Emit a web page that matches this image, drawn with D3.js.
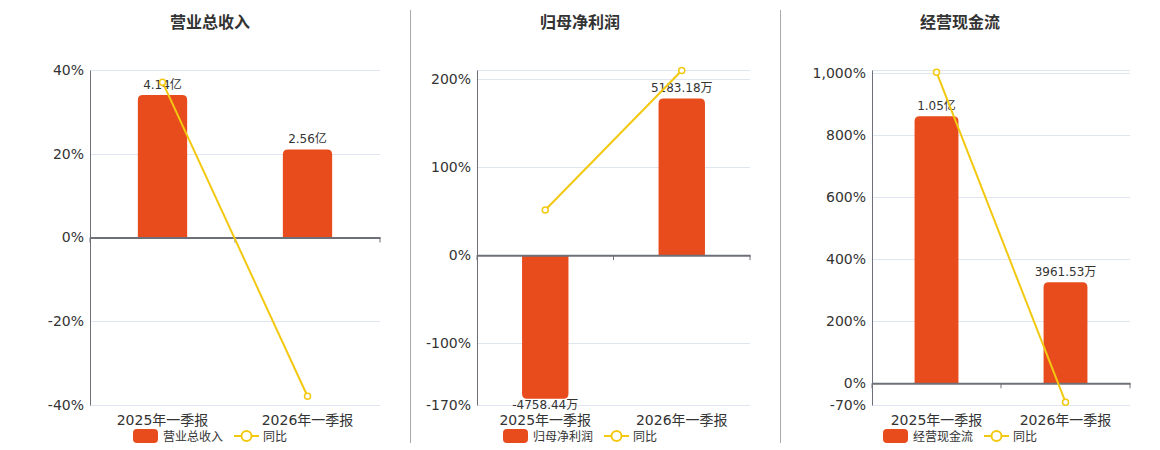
<!DOCTYPE html>
<html>
<head>
<meta charset="utf-8">
<script src="https://cdn.jsdelivr.net/npm/d3@7"></script>
<style>
  body { margin: 0; background: #fff; }
  svg { display: block; font-family: "DejaVu Sans", "Noto Sans CJK SC", sans-serif; }
</style>
</head>
<body>
<svg id="chart" width="1160" height="450"></svg>
<script>
const categories = ['2025年一季报', '2026年一季报'];

// 营业总收入 (亿)
const revenue = [4.14, 2.56];
const revenueLabels = ['4.14亿', '2.56亿'];
const revenueYoy = [37.1, -37.9];
const revenueTicks = [40, 20, 0, -20, -40];

// 归母净利润 (万)
const profit = [-4758.44, 5183.18];
const profitLabels = ['-4758.44万', '5183.18万'];
const profitYoy = [51.2, 209.5];
const profitTicks = [200, 100, 0, -100, -170];

// 经营现金流 (万)
const cashflow = [10500, 3961.53];
const cashflowLabels = ['1.05亿', '3961.53万'];
const cashflowYoy = [1003, -61];
const cashflowTicks = [1000, 800, 600, 400, 200, 0, -70];

const barColor = '#e84c1d';
const lineColor = '#f2c811';
const axisColor = '#6e7079';
const gridColor = '#e0e6f1';
const textColor = '#333';

const panels = [
  { title: '营业总收入', cx: 210, left: 90, right: 380, bars: revenue, labels: revenueLabels, yoy: revenueYoy,
    ticks: revenueTicks, pct: [-40, 40], barDom: [-4.87, 4.87] },
  { title: '归母净利润', cx: 580, left: 477, right: 750, bars: profit, labels: profitLabels, yoy: profitYoy,
    ticks: profitTicks, pct: [-170, 210], barDom: [-4965, 6125] },
  { title: '经营现金流', cx: 960, left: 872, right: 1130, bars: cashflow, labels: cashflowLabels, yoy: cashflowYoy,
    ticks: cashflowTicks, pct: [-70, 1010], barDom: [-866, 12320] }
];

const plotTop = 70, plotBottom = 405;
const svg = d3.select('#chart');
const pctFormat = d => d3.format(',')(d).replace('\u2212', '-') + '%';

// panel dividers
[410.5, 780.5].forEach(x => {
  svg.append('line').attr('x1', x).attr('x2', x).attr('y1', 10).attr('y2', 443)
    .attr('stroke', '#aaa').attr('stroke-width', 1);
});

function barPath(x, w, y0, y1, r) {
  // rounded on the end away from zero
  const up = y1 < y0;
  const h = Math.abs(y1 - y0);
  r = Math.min(r, h / 2, w / 2);
  if (up) {
    return `M${x},${y0}V${y1 + r}Q${x},${y1} ${x + r},${y1}H${x + w - r}Q${x + w},${y1} ${x + w},${y1 + r}V${y0}Z`;
  }
  return `M${x},${y0}V${y1 - r}Q${x},${y1} ${x + r},${y1}H${x + w - r}Q${x + w},${y1} ${x + w},${y1 - r}V${y0}Z`;
}

panels.forEach(p => {
  const g = svg.append('g');
  const x = d3.scaleBand().domain(categories).range([p.left, p.right]);
  const yPct = d3.scaleLinear().domain(p.pct).range([plotBottom, plotTop]);
  const yBar = d3.scaleLinear().domain(p.barDom).range([plotBottom, plotTop]);

  g.append('text').attr('x', p.cx).attr('y', 28).attr('text-anchor', 'middle')
    .attr('font-size', 16).attr('font-weight', 'bold').attr('fill', textColor).text(p.title);

  // grid
  g.append('g').selectAll('line').data([...p.ticks, p.pct[1]]).join('line')
    .attr('x1', p.left).attr('x2', p.right)
    .attr('y1', d => Math.round(yPct(d)) + 0.5).attr('y2', d => Math.round(yPct(d)) + 0.5)
    .attr('stroke', gridColor);

  // left axis
  const yAxis = d3.axisLeft(yPct).tickValues(p.ticks).tickSize(0).tickPadding(6).tickFormat(pctFormat);
  const ya = g.append('g').attr('transform', `translate(${p.left},0)`).call(yAxis);
  ya.select('.domain').attr('stroke', axisColor);
  ya.selectAll('text').attr('font-size', 14).attr('fill', textColor).attr('font-family', 'DejaVu Sans');

  // bars
  const bw = x.bandwidth() * 0.34;
  g.append('g').selectAll('path').data(p.bars).join('path')
    .attr('d', (d, i) => barPath(x(categories[i]) + (x.bandwidth() - bw) / 2, bw, yBar(0), yBar(d), 5))
    .attr('fill', barColor);

  // zero axis with ticks
  const y0 = yPct(0);
  const xa = g.append('g').attr('transform', `translate(0,${y0})`)
    .call(d3.axisBottom(x).tickValues([]).tickSizeOuter(0));
  xa.select('.domain').attr('stroke', axisColor).attr('stroke-width', 2);
  const bounds = [p.left, p.left + x.step(), p.right];
  g.append('g').selectAll('line').data(bounds).join('line')
    .attr('x1', d => d).attr('x2', d => d).attr('y1', y0).attr('y2', y0 + 5)
    .attr('stroke', axisColor);

  // category labels
  g.append('g').selectAll('text').data(categories).join('text')
    .attr('x', d => x(d) + x.bandwidth() / 2).attr('y', 425)
    .attr('text-anchor', 'middle').attr('font-size', 14).attr('fill', textColor).text(d => d);

  // bar labels
  g.append('g').selectAll('text').data(p.bars).join('text')
    .attr('x', (d, i) => x(categories[i]) + x.bandwidth() / 2)
    .attr('y', d => d >= 0 ? yBar(d) - 6 : yBar(d) + 10)
    .attr('text-anchor', 'middle').attr('font-size', 12).attr('fill', textColor)
    .text((d, i) => p.labels[i]);

  // yoy line
  const pts = p.yoy.map((v, i) => [x(categories[i]) + x.bandwidth() / 2, yPct(v)]);
  g.append('path').attr('d', d3.line()(pts)).attr('fill', 'none')
    .attr('stroke', lineColor).attr('stroke-width', 2);
  g.append('g').selectAll('circle').data(pts).join('circle')
    .attr('cx', d => d[0]).attr('cy', d => d[1]).attr('r', 3)
    .attr('fill', '#fff').attr('stroke', lineColor).attr('stroke-width', 1.5);

  // legend
  const lx = p.cx - 77;
  const lg = g.append('g').attr('transform', `translate(${lx},436)`);
  lg.append('rect').attr('x', 0).attr('y', -7).attr('width', 25).attr('height', 14).attr('rx', 4).attr('fill', barColor);
  lg.append('text').attr('x', 30).attr('y', 4.5).attr('font-size', 12).attr('fill', textColor).text(p.title);
  lg.append('line').attr('x1', 101).attr('x2', 126).attr('y1', 0).attr('y2', 0).attr('stroke', lineColor).attr('stroke-width', 2);
  lg.append('circle').attr('cx', 113.5).attr('cy', 0).attr('r', 5).attr('fill', '#fff').attr('stroke', lineColor).attr('stroke-width', 2);
  lg.append('text').attr('x', 130).attr('y', 4.5).attr('font-size', 12).attr('fill', textColor).text('同比');
});
</script>
</body>
</html>
